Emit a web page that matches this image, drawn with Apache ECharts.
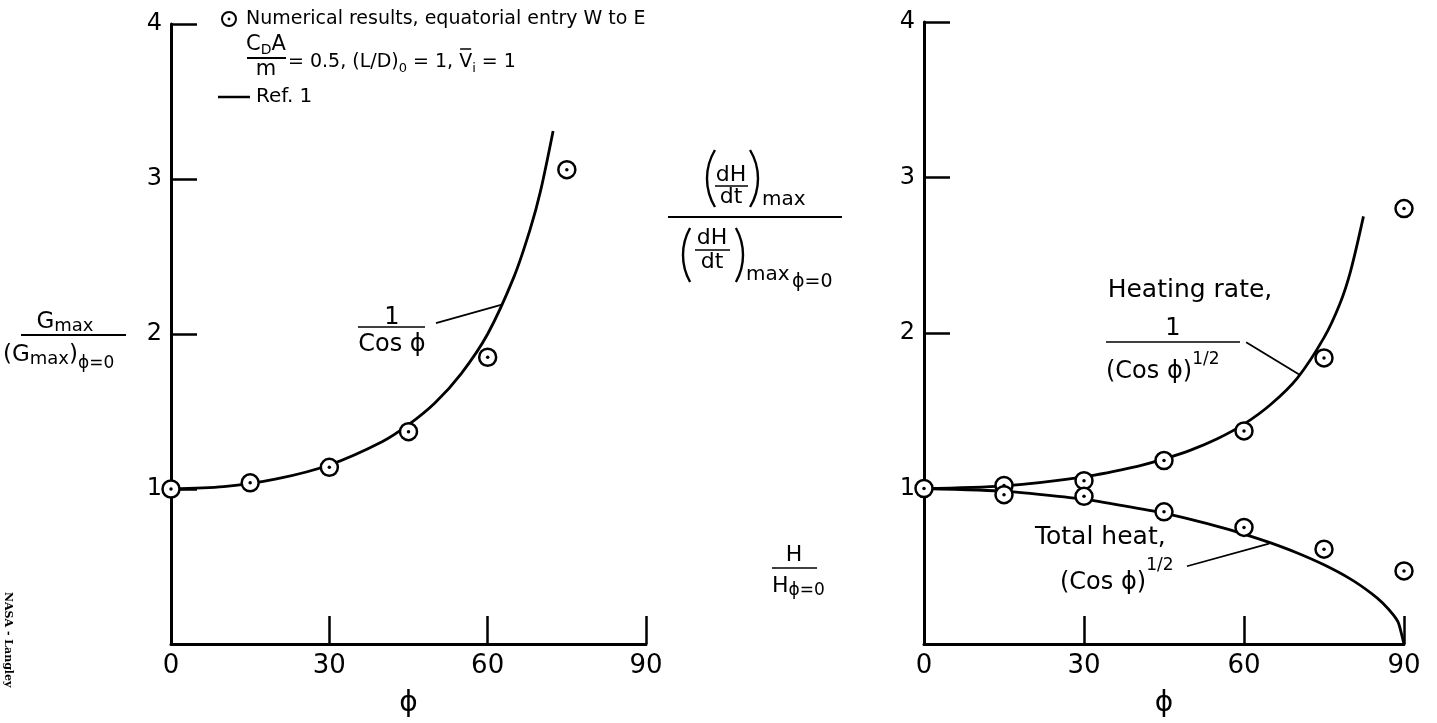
<!DOCTYPE html>
<html><head><meta charset="utf-8">
<script src="https://cdn.jsdelivr.net/npm/echarts@6/dist/echarts.min.js"></script>
<style>html,body{margin:0;padding:0;background:#fff}#c{width:1437px;height:723px}</style>
</head><body><div id="c"></div>
<script>
// ---- data ----
const xTickMin = 0, xTickMax = 90, xTickStep = 30;
const yTickMin = 0, yTickMax = 4, yTickStep = 1;
// Left panel: Gmax ratio vs phi
const gPhi = [0, 15, 30, 45, 60, 75];
const gNum = [1.00, 1.04, 1.14, 1.37, 1.85, 3.06];
const gRefPhi = [0, 10, 20, 30, 40, 45, 50, 55, 60, 65, 68, 70, 72.4];
const gRef    = [1.0, 1.015, 1.065, 1.155, 1.305, 1.415, 1.555, 1.745, 2.0, 2.37, 2.67, 2.92, 3.31];
// Right panel: heating rate and total heat vs phi
const hPhi = [0, 15, 30, 45, 60, 75, 90];
const hRate = [1.00, 1.02, 1.05, 1.18, 1.37, 1.84, 2.80];
const tPhi = [15, 30, 45, 60, 75, 90];
const tHeat = [0.96, 0.95, 0.85, 0.75, 0.61, 0.47];
const hRefPhi = [0, 15, 30, 40, 45, 50, 55, 60, 65, 70, 75, 78, 80, 82.4];
const hRef    = [1.0, 1.017, 1.075, 1.142, 1.19, 1.247, 1.32, 1.414, 1.54, 1.71, 1.97, 2.19, 2.40, 2.75];
const tRefPhi = [0, 15, 30, 45, 55, 60, 65, 70, 75, 80, 84, 86, 88, 89, 90];
const tRef    = [1.0, 0.983, 0.931, 0.841, 0.757, 0.707, 0.650, 0.585, 0.509, 0.417, 0.323, 0.264, 0.187, 0.132, 0];

const zip = (a, b) => a.map((v, i) => [v, b[i]]);
const FONT = '"DejaVu Sans", "Liberation Sans", sans-serif';
const BLACK = '#000';

const chart = echarts.init(document.getElementById('c'), null, {renderer: 'canvas'});

function xAxisCfg(gi) {
  return {
    gridIndex: gi, type: 'value', min: xTickMin, max: xTickMax, interval: xTickStep,
    name: 'ϕ', nameLocation: 'middle', nameGap: 46,
    nameTextStyle: {fontSize: 28, fontFamily: FONT, color: BLACK},
    axisLine: {show: true, onZero: false, lineStyle: {color: BLACK, width: 3}},
    axisTick: {show: true, inside: true, length: 28, lineStyle: {color: BLACK, width: 2.5}},
    axisLabel: {fontSize: 26, fontFamily: FONT, color: BLACK, margin: 9},
    splitLine: {show: false}
  };
}
function yAxisCfg(gi) {
  return {
    gridIndex: gi, type: 'value', min: yTickMin, max: yTickMax, interval: yTickStep,
    axisLine: {show: true, onZero: false, lineStyle: {color: BLACK, width: 3}},
    axisTick: {show: true, inside: true, length: 26, lineStyle: {color: BLACK, width: 2.5}},
    axisLabel: {fontSize: 24, fontFamily: FONT, color: BLACK, margin: 9,
      formatter: v => (v === 0 ? '' : String(v))},
    splitLine: {show: false}
  };
}
function ringSeries(xi, data) {
  return {type: 'scatter', xAxisIndex: xi, yAxisIndex: xi, data, symbol: 'circle', symbolSize: 17,
    itemStyle: {color: '#fff', borderColor: BLACK, borderWidth: 2.5, opacity: 1}, z: 5, clip: false, silent: true};
}
function dotSeries(xi, data) {
  return {type: 'scatter', xAxisIndex: xi, yAxisIndex: xi, data, symbol: 'circle', symbolSize: 3.5,
    itemStyle: {color: BLACK, opacity: 1}, z: 6, clip: false, silent: true};
}
function curveSeries(xi, data, sm) {
  return {type: 'line', xAxisIndex: xi, yAxisIndex: xi, data, smooth: sm,
    showSymbol: false, lineStyle: {color: BLACK, width: 2.8}, z: 3, silent: true, clip: false};
}

chart.setOption({
  animation: false,
  backgroundColor: '#fff',
  grid: [
    {left: 171, right: 791, top: 24, bottom: 66},
    {left: 924, right: 33, top: 22, bottom: 69}
  ],
  xAxis: [xAxisCfg(0), xAxisCfg(1)],
  yAxis: [yAxisCfg(0), yAxisCfg(1)],
  series: [
    curveSeries(0, zip(gRefPhi, gRef), 0.3),
    ringSeries(0, zip(gPhi, gNum)),
    dotSeries(0, zip(gPhi, gNum)),
    curveSeries(1, zip(hRefPhi, hRef), 0.3),
    curveSeries(1, zip(tRefPhi, tRef), 0.15),
    ringSeries(1, zip(hPhi, hRate)),
    dotSeries(1, zip(hPhi, hRate)),
    ringSeries(1, zip(tPhi, tHeat)),
    dotSeries(1, zip(tPhi, tHeat))
  ]
});

// ---- annotation helpers ----
const mctx = document.createElement('canvas').getContext('2d');
function tw(t, s) { mctx.font = s + 'px ' + FONT; return mctx.measureText(t).width; }
function txt(x, y, t, s, align) {
  return {type: 'text', x, y, silent: true, z: 10,
    style: {text: t, fontSize: s, fontFamily: FONT, fill: BLACK, align: align || 'left', verticalAlign: 'middle'}};
}
function run(x, pieces, align) {
  const total = pieces.reduce((a, p) => a + tw(p.t, p.s), 0);
  let cx = align === 'center' ? x - total / 2 : (align === 'right' ? x - total : x);
  const els = [], pos = [];
  for (const p of pieces) {
    els.push(txt(cx, p.y, p.t, p.s, 'left'));
    pos.push(cx);
    cx += tw(p.t, p.s);
  }
  return {els, pos, end: cx};
}
function ln(x1, y1, x2, y2, w) {
  return {type: 'line', silent: true, z: 10, shape: {x1, y1, x2, y2}, style: {stroke: BLACK, lineWidth: w || 1.6}};
}
function paren(xEdge, yTop, yBot, left) {
  const R = 55, half = (yBot - yTop) / 2, a = Math.asin(Math.min(half / R, 0.99));
  const cy = (yTop + yBot) / 2;
  const cx = left ? xEdge + R : xEdge - R;
  return {type: 'arc', silent: true, z: 10,
    shape: {cx, cy, r: R, startAngle: left ? Math.PI - a : -a, endAngle: left ? Math.PI + a : a, clockwise: true},
    style: {stroke: BLACK, lineWidth: 2.4, fill: null}};
}
function px(gi, p) { return chart.convertToPixel({gridIndex: gi}, p); }
function leader(gi, a, b) { const p = px(gi, a), q = px(gi, b); return ln(p[0], p[1], q[0], q[1], 1.8); }

const G = [];
// Legend block (top left)
G.push({type: 'circle', silent: true, z: 10, shape: {cx: 229, cy: 19, r: 7}, style: {stroke: BLACK, lineWidth: 2, fill: '#fff'}});
G.push({type: 'circle', silent: true, z: 10, shape: {cx: 229, cy: 19, r: 1.4}, style: {fill: BLACK}});
G.push(txt(246, 19, 'Numerical results, equatorial entry W to E', 19));
G.push(...run(266, [{t: 'C', s: 21, y: 45}, {t: 'D', s: 14, y: 50}, {t: 'A', s: 21, y: 45}], 'center').els);
G.push(ln(247, 58, 286, 58, 1.8));
G.push(txt(266, 70, 'm', 21, 'center'));
const l2 = run(288, [
  {t: '= 0.5, (L/D)', s: 19, y: 62}, {t: '0', s: 13, y: 69},
  {t: ' = 1, ', s: 19, y: 62}, {t: 'V', s: 19, y: 62}, {t: 'i', s: 13, y: 69},
  {t: ' = 1', s: 19, y: 62}], 'left');
G.push(...l2.els);
G.push(ln(l2.pos[3] + 1, 49, l2.pos[3] + tw('V', 19) - 1, 49, 1.5));
G.push(ln(218, 97, 250, 97, 2.5));
G.push(txt(256, 97, 'Ref. 1', 20));

// Left y-axis title
G.push(...run(65, [{t: 'G', s: 23, y: 322}, {t: 'max', s: 18, y: 326}], 'center').els);
G.push(ln(21, 335, 126, 335, 1.8));
G.push(...run(3, [{t: '(G', s: 23, y: 355}, {t: 'max', s: 18, y: 359}, {t: ')', s: 23, y: 355}, {t: 'ϕ=0', s: 17, y: 364}], 'left').els);

// Left curve label
G.push(txt(392, 318, '1', 24, 'center'));
G.push(ln(358, 327, 425, 327, 1.6));
G.push(txt(392, 345, 'Cos ϕ', 24, 'center'));

// Middle: (dH/dt)max / (dH/dt)max phi=0
G.push(paren(707, 150, 207, true));
G.push(txt(731, 175, 'dH', 22, 'center'));
G.push(ln(715, 186, 748, 186, 1.5));
G.push(txt(731, 197, 'dt', 22, 'center'));
G.push(paren(758, 150, 207, false));
G.push(txt(762, 200, 'max', 20));
G.push(ln(668, 217, 842, 217, 1.8));
G.push(paren(683, 228, 282, true));
G.push(txt(712, 238, 'dH', 22, 'center'));
G.push(ln(695, 250, 730, 250, 1.5));
G.push(txt(712, 262, 'dt', 22, 'center'));
G.push(paren(743, 228, 282, false));
G.push(txt(746, 275, 'max', 20));
G.push(txt(792, 282, 'ϕ=0', 19));
// Middle: H / H phi=0
G.push(txt(794, 555, 'H', 22, 'center'));
G.push(ln(772, 568, 817, 568, 1.6));
G.push(...run(772, [{t: 'H', s: 22, y: 586}, {t: 'ϕ=0', s: 17, y: 591}], 'left').els);

// Right: heating rate label
G.push(txt(1190, 290, 'Heating rate,', 25, 'center'));
G.push(txt(1173, 329, '1', 24, 'center'));
G.push(ln(1106, 342, 1240, 342, 1.6));
G.push(...run(1106, [{t: '(Cos ϕ)', s: 24, y: 372}, {t: '1/2', s: 17, y: 360}], 'left').els);
// Right: total heat label
G.push(txt(1035, 537, 'Total heat,', 25));
G.push(...run(1060, [{t: '(Cos ϕ)', s: 24, y: 583}, {t: '1/2', s: 17, y: 566}], 'left').els);

// Leader lines, anchored in data coordinates
G.push(leader(0, [50.2, 2.07], [62.7, 2.19]));
G.push(leader(1, [60.4, 1.94], [70.5, 1.73]));
G.push(leader(1, [49.3, 0.50], [64.7, 0.646]));

// Side stamp
G.push({type: 'text', x: 8, y: 592, rotation: -Math.PI / 2, silent: true,
  style: {text: 'NASA - Langley', fontSize: 11, fontWeight: 'bold', fontFamily: '"DejaVu Serif", serif', fill: BLACK, align: 'left', verticalAlign: 'middle'}});

chart.setOption({graphic: {elements: G}});
</script>
</body></html>
